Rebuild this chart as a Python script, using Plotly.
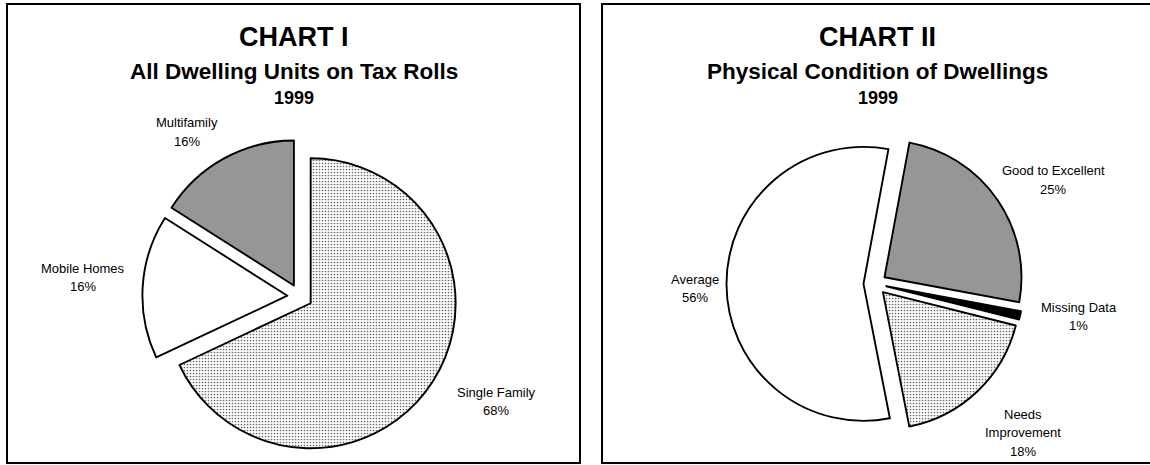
import plotly.graph_objects as go

W, H = 1150, 465

# ---------------- data ----------------
chart1_title = "CHART I"
chart1_subtitle = "All Dwelling Units on Tax Rolls"
chart1_year = "1999"
chart1_labels = ["Single Family", "Mobile Homes", "Multifamily"]
chart1_values = [68, 16, 16]

chart2_title = "CHART II"
chart2_subtitle = "Physical Condition of Dwellings"
chart2_year = "1999"
chart2_labels = ["Good to Excellent", "Missing Data", "Needs Improvement", "Average"]
chart2_values = [25, 1, 18, 56]

# ---------------- styles ----------------
GRAY = "#969696"
chart1_colors = ["white", "white", GRAY]
chart1_shapes = [".", "", ""]
chart2_colors = [GRAY, "black", "white", "white"]
chart2_shapes = ["", "", ".", ""]

FONT = "Liberation Sans, Arial, sans-serif"


def pie_domain(cx, cy, r, pull):
    half = r * (1 + pull)
    return dict(x=[(cx - half) / W, (cx + half) / W],
                y=[1 - (cy + half) / H, 1 - (cy - half) / H])


def px(x):
    return x / W


def py(y):
    return 1 - y / H


def pattern(shapes, colors):
    return dict(shape=shapes, size=3, solidity=0.25, fgcolor="#6a6a6a",
                bgcolor=colors, fillmode="replace")


fig = go.Figure()

pull1 = 0.087
fig.add_trace(go.Pie(
    labels=chart1_labels, values=chart1_values, sort=False,
    direction="clockwise", rotation=0,
    pull=[pull1] * len(chart1_values),
    marker=dict(colors=chart1_colors, pattern=pattern(chart1_shapes, chart1_colors),
                line=dict(color="black", width=1.9)),
    textinfo="none", hoverinfo="label+percent",
    domain=pie_domain(300, 296.5, 145, pull1),
))

pull2 = 0.084
fig.add_trace(go.Pie(
    labels=chart2_labels, values=chart2_values, sort=False,
    direction="clockwise", rotation=10.5,
    pull=[pull2] * len(chart2_values),
    marker=dict(colors=chart2_colors, pattern=pattern(chart2_shapes, chart2_colors),
                line=dict(color="black", width=1.9)),
    textinfo="none", hoverinfo="label+percent",
    domain=pie_domain(875, 283.8, 137, pull2),
))

annotations = []


def add_text(text, x, y, size, bold=False):
    annotations.append(dict(
        text=f"<b>{text}</b>" if bold else text,
        x=px(x), y=py(y), xref="paper", yref="paper",
        xanchor="center", yanchor="middle", showarrow=False,
        font=dict(family=FONT, size=size, color="black")))


# titles
add_text(chart1_title, 293.5, 36.5, 27, True)
add_text(chart1_subtitle, 293.5, 71, 22.5, True)
add_text(chart1_year, 293.5, 98.5, 18, True)
add_text(chart2_title, 877.5, 36.5, 27, True)
add_text(chart2_subtitle, 877.5, 71, 22.5, True)
add_text(chart2_year, 877.5, 98.5, 18, True)

# slice labels: (lines of label, x center, y of first line)
chart1_label_lines = [["Single Family"], ["Mobile Homes"], ["Multifamily"]]
chart1_label_pos = [(496, 392), (83, 268), (186.5, 122.5)]
chart2_label_lines = [["Good to Excellent"], ["Missing Data"], ["Needs", "Improvement"], ["Average"]]
chart2_label_pos = [(1053, 171), (1078.5, 307), (1023, 414), (695, 279)]

LINE = 18.7
for lines, val, (x, y) in zip(chart1_label_lines, chart1_values, chart1_label_pos):
    for i, t in enumerate(lines + [f"{val}%"]):
        add_text(t, x, y + i * LINE, 13)
for lines, val, (x, y) in zip(chart2_label_lines, chart2_values, chart2_label_pos):
    for i, t in enumerate(lines + [f"{val}%"]):
        add_text(t, x, y + i * LINE, 13)

shapes = [
    dict(type="rect", xref="paper", yref="paper", x0=px(7), x1=px(580), y0=py(463), y1=py(4),
         line=dict(color="black", width=2), fillcolor="rgba(0,0,0,0)", layer="below"),
    dict(type="rect", xref="paper", yref="paper", x0=px(602), x1=px(1153), y0=py(463), y1=py(4),
         line=dict(color="black", width=2), fillcolor="rgba(0,0,0,0)", layer="below"),
]

fig.update_layout(
    width=W, height=H,
    margin=dict(l=0, r=0, t=0, b=0),
    paper_bgcolor="white", plot_bgcolor="white",
    showlegend=False,
    annotations=annotations, shapes=shapes,
    font=dict(family=FONT),
)

fig.write_html("out.html", config={"displayModeBar": False},
               post_script="document.body.style.margin='0';document.body.style.overflow='hidden';")
